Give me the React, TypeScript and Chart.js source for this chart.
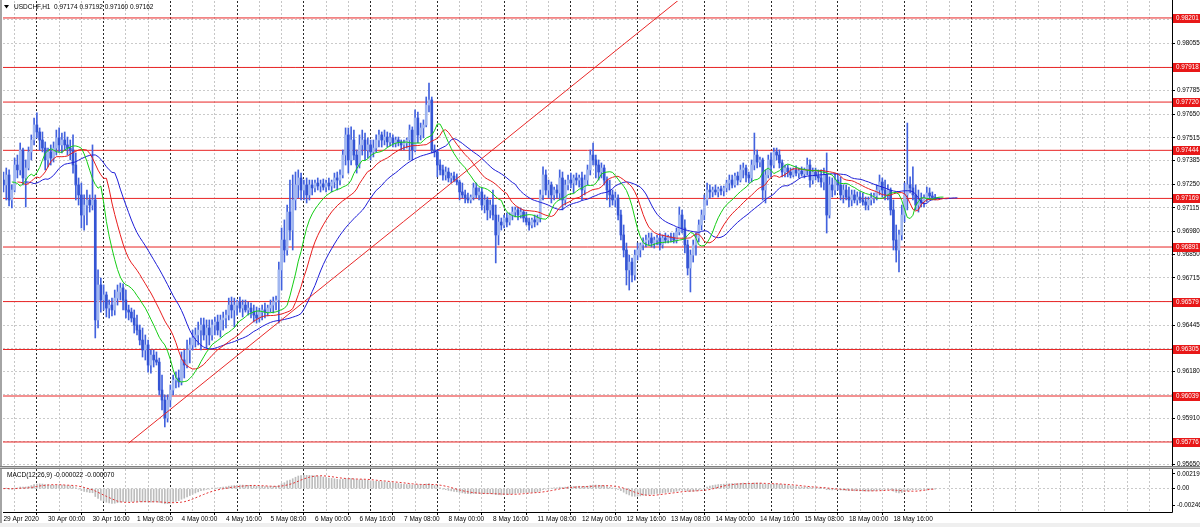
import React, { useEffect, useRef } from 'react';
import { Chart, registerables } from 'chart.js';

Chart.register(...registerables);

// USDCHF H1 bars, index 0 = 29 Apr 2020 08:00. Prices in points (1 point = 0.00001).
const OPEN = [
  97274,97246,97303,97160,97217,97360,97332,97446,97286,97343,97435,97503,
  97589,97549,97503,97457,97389,97435,97400,97457,97515,97475,97503,97475,
  97457,97446,97360,97246,97189,97074,97131,97160,97131,97160,96474,96674,
  96588,96617,96542,96559,96531,96599,96634,96657,96588,96531,96519,96485,
  96445,96416,96359,96302,96331,96216,96273,96245,96233,96073,96016,95913,
  96016,96073,96130,96142,96119,96245,96216,96302,96331,96371,96388,96416,
  96445,96388,96428,96388,96445,96462,96416,96474,96485,96502,96559,96531,
  96559,96577,96542,96559,96531,96542,96519,96502,96485,96519,96531,96519,
  96542,96559,96577,96588,96760,96931,96874,97091,96988,97160,97246,97286,
  97217,97246,97189,97246,97229,97257,97240,97252,97234,97257,97240,97263,
  97286,97274,97303,97417,97532,97389,97503,97417,97360,97475,97503,97446,
  97475,97435,97457,97503,97532,97503,97520,97492,97515,97486,97503,97492,
  97475,97486,97503,97560,97446,97629,97532,97572,97589,97703,97732,97446,
  97435,97360,97332,97303,97320,97286,97297,97274,97263,97206,97189,97171,
  97160,97177,97229,97189,97206,97131,97160,97103,97131,97074,96960,97034,
  97017,97057,97034,97074,97091,97103,97074,97091,97057,97034,97017,97046,
  97034,97057,97189,97303,97217,97246,97189,97217,97200,97286,97160,97246,
  97274,97257,97286,97274,97286,97217,97274,97332,97417,97389,97360,97320,
  97343,97274,97217,97189,97160,97171,97074,96960,96874,96760,96805,96731,
  96845,96874,96903,96920,96931,96943,96914,96931,96943,96903,96943,96931,
  96948,96943,96931,96977,97074,97000,96903,96771,96845,96903,96943,97017,
  97074,97160,97217,97206,97217,97206,97223,97212,97229,97257,97274,97246,
  97297,97274,97332,97343,97303,97286,97360,97417,97377,97389,97217,97303,
  97389,97360,97435,97417,97372,97320,97343,97320,97303,97332,97314,97326,
  97309,97332,97360,97274,97320,97297,97286,97263,97303,97074,97246,97217,
  97274,97246,97189,97217,97177,97160,97189,97160,97177,97160,97149,97131,
  97160,97171,97183,97217,97263,97217,97189,97217,97103,96931,96874,96960,
  97074,97189,97246,97229,97189,97131,97160,97143,97171,97200,97183,97174,
];
const HIGH = [
  97320,97343,97332,97246,97400,97417,97486,97457,97389,97463,97532,97629,
  97658,97572,97549,97492,97457,97475,97492,97560,97572,97543,97549,97520,
  97503,97532,97429,97286,97257,97189,97217,97189,97475,97189,96760,96714,
  96674,96634,96588,96599,96645,96674,96685,96680,96645,96559,96542,96531,
  96502,96445,96428,96388,96359,96302,96302,96291,96256,96159,96045,96045,
  96102,96159,96176,96188,96291,96302,96359,96371,96416,96428,96462,96485,
  96485,96474,96474,96474,96491,96502,96502,96519,96531,96599,96605,96599,
  96588,96605,96588,96588,96577,96571,96559,96548,96542,96559,96571,96559,
  96588,96605,96611,96805,97000,97046,97131,97274,97303,97320,97332,97314,
  97274,97286,97274,97274,97274,97286,97274,97280,97274,97286,97274,97314,
  97320,97332,97446,97572,97572,97578,97560,97446,97532,97560,97543,97515,
  97503,97503,97532,97560,97549,97560,97549,97543,97532,97520,97520,97503,
  97503,97515,97589,97578,97675,97663,97600,97618,97749,97829,97749,97475,
  97446,97389,97360,97349,97343,97314,97320,97309,97274,97257,97217,97200,
  97189,97257,97257,97229,97229,97189,97177,97160,97217,97131,97074,97057,
  97074,97086,97086,97120,97120,97120,97114,97103,97091,97057,97057,97074,
  97074,97217,97349,97332,97274,97263,97234,97246,97332,97320,97274,97303,
  97314,97303,97314,97303,97320,97303,97360,97446,97486,97417,97389,97372,
  97360,97292,97274,97217,97206,97189,97103,97017,96914,96845,96828,96874,
  96914,96914,96943,96960,96971,96971,96948,96960,96971,96960,96971,96960,
  96971,96971,97000,97120,97103,97046,96931,96874,96931,96971,97046,97103,
  97189,97257,97246,97234,97246,97234,97240,97240,97274,97303,97303,97314,
  97320,97360,97372,97360,97320,97389,97543,97446,97406,97400,97332,97417,
  97429,97457,97457,97446,97389,97360,97360,97343,97343,97355,97343,97349,
  97343,97400,97389,97343,97343,97332,97332,97343,97429,97292,97286,97314,
  97303,97292,97246,97246,97234,97217,97217,97206,97206,97200,97177,97177,
  97200,97200,97246,97303,97286,97274,97246,97229,97160,97017,96988,97131,
  97257,97600,97292,97349,97246,97217,97200,97189,97234,97229,97206,97192,
];
const LOW = [
  97206,97160,97126,97114,97206,97286,97303,97246,97120,97332,97389,97475,
  97515,97446,97435,97332,97349,97360,97377,97417,97435,97429,97446,97417,
  97389,97314,97160,97131,97000,96988,97017,97091,97103,96371,96428,96519,
  96531,96491,96485,96497,96502,96559,96588,96531,96485,96474,96462,96399,
  96388,96331,96262,96245,96176,96170,96205,96216,96045,95959,95862,95890,
  95976,96045,96085,96090,96102,96142,96199,96228,96302,96319,96331,96302,
  96359,96313,96331,96359,96388,96388,96376,96416,96428,96474,96485,96434,
  96502,96519,96491,96519,96502,96485,96462,96456,96462,96474,96485,96497,
  96519,96514,96531,96456,96645,96805,96845,96931,96874,97103,97171,97160,
  97160,97143,97160,97189,97206,97217,97206,97217,97206,97217,97206,97229,
  97217,97246,97286,97360,97314,97360,97389,97314,97343,97417,97389,97400,
  97389,97406,97435,97463,97463,97475,97463,97469,97463,97463,97469,97446,
  97446,97457,97389,97389,97435,97486,97503,97515,97578,97663,97429,97406,
  97292,97303,97274,97274,97263,97257,97263,97246,97160,97171,97143,97143,
  97143,97160,97171,97160,97103,97086,97046,97057,97046,96800,96903,96988,
  97000,97006,97017,97046,97063,97046,97057,97034,97017,96988,97000,97006,
  97017,97034,97160,97189,97171,97143,97160,97171,97160,97103,97131,97217,
  97229,97200,97246,97234,97160,97189,97246,97303,97360,97286,97274,97286,
  97246,97160,97120,97131,97120,97046,96931,96834,96674,96645,96691,96702,
  96817,96834,96874,96891,96903,96891,96885,96903,96874,96885,96914,96914,
  96920,96914,96914,96960,96971,96857,96731,96634,96805,96845,96920,96988,
  97046,97131,97171,97177,97189,97177,97189,97183,97206,97217,97229,97234,
  97246,97263,97286,97263,97257,97263,97332,97343,97349,97160,97143,97286,
  97292,97343,97389,97343,97292,97292,97292,97286,97292,97297,97286,97297,
  97286,97303,97234,97252,97274,97263,97234,97217,96971,97057,97177,97189,
  97217,97160,97143,97160,97120,97126,97143,97131,97143,97131,97103,97103,
  97131,97143,97160,97189,97177,97160,97160,97074,96874,96805,96748,96931,
  97034,97103,97200,97160,97103,97091,97120,97120,97149,97160,97160,97160,
];
const CLOSE = [
  97246,97303,97160,97217,97360,97332,97446,97286,97343,97435,97503,97589,
  97549,97503,97457,97389,97435,97400,97457,97515,97475,97503,97475,97457,
  97446,97360,97246,97189,97074,97131,97160,97131,97160,96474,96674,96588,
  96617,96542,96559,96531,96599,96634,96657,96588,96531,96519,96485,96445,
  96416,96359,96302,96331,96216,96273,96245,96233,96073,96016,95913,96016,
  96073,96130,96142,96119,96245,96216,96302,96331,96371,96388,96416,96445,
  96388,96428,96388,96445,96462,96416,96474,96485,96502,96559,96531,96559,
  96577,96542,96559,96531,96542,96519,96502,96485,96519,96531,96519,96542,
  96559,96577,96588,96760,96931,96874,97091,96988,97160,97246,97286,97217,
  97246,97189,97246,97229,97257,97240,97252,97234,97257,97240,97263,97286,
  97274,97303,97417,97532,97389,97503,97417,97360,97475,97503,97446,97475,
  97435,97457,97503,97532,97503,97520,97492,97515,97486,97503,97492,97475,
  97486,97503,97560,97446,97629,97532,97572,97589,97703,97732,97446,97435,
  97360,97332,97303,97320,97286,97297,97274,97263,97206,97189,97171,97160,
  97177,97229,97189,97206,97131,97160,97103,97131,97074,96960,97034,97017,
  97057,97034,97074,97091,97103,97074,97091,97057,97034,97017,97046,97034,
  97057,97189,97303,97217,97246,97189,97217,97200,97286,97160,97246,97274,
  97257,97286,97274,97286,97217,97274,97332,97417,97389,97360,97320,97343,
  97274,97217,97189,97160,97171,97074,96960,96874,96760,96805,96731,96845,
  96874,96903,96920,96931,96943,96914,96931,96943,96903,96943,96931,96948,
  96943,96931,96977,97074,97000,96903,96771,96845,96903,96943,97017,97074,
  97160,97217,97206,97217,97206,97223,97212,97229,97257,97274,97246,97297,
  97274,97332,97343,97303,97286,97360,97417,97377,97389,97217,97303,97389,
  97360,97435,97417,97372,97320,97343,97320,97303,97332,97314,97326,97309,
  97332,97360,97274,97320,97297,97286,97263,97303,97074,97246,97217,97274,
  97246,97189,97217,97177,97160,97189,97160,97177,97160,97149,97131,97160,
  97171,97183,97217,97263,97217,97189,97217,97103,96931,96874,96960,97074,
  97189,97246,97229,97189,97131,97160,97143,97171,97200,97183,97174,97162,
];

// Horizontal support/resistance levels (red lines with red axis labels)
const LEVELS = [0.98201, 0.97918, 0.9772, 0.97444, 0.97169, 0.96891, 0.96579, 0.96305, 0.96039, 0.95776];
// Price axis ticks
const PRICE_TICKS = [0.9565, 0.9578, 0.9591, 0.96045, 0.9618, 0.9631, 0.96445, 0.9658, 0.96715, 0.9685,
  0.9698, 0.97115, 0.9725, 0.97385, 0.97515, 0.9765, 0.97785, 0.9792, 0.98055, 0.9819];
// MACD sub-window ticks
const MACD_TICKS = [-0.00246, 0, 0.002199];
const MACD_TICK_LABELS = ['-0.00246', '0.00', '0.002199'];
// Time labels, one every 16 bars starting at bar 0
const X_LABELS = ['29 Apr 2020', '30 Apr 00:00', '30 Apr 16:00', '1 May 08:00', '4 May 00:00', '4 May 16:00',
  '5 May 08:00', '6 May 00:00', '6 May 16:00', '7 May 08:00', '8 May 00:00', '8 May 16:00', '11 May 08:00',
  '12 May 00:00', '12 May 16:00', '13 May 08:00', '14 May 00:00', '14 May 16:00', '15 May 08:00',
  '18 May 00:00', '18 May 16:00'];
// Trend line anchors (bar index, price)
const TREND_BARS = [45, 262];
const TREND_PRICES = [0.9577, 0.9855];

const HEADER = 'USDCHF,H1  0.97174 0.97192 0.97160 0.97162';
const MACD_TITLE = 'MACD(12,26,9) -0.000022 -0.000070';

// view ranges
const X_MIN = -0.18, X_MAX = 420.17;
const P_MIN = 0.95633, P_MAX = 0.98298;
const M_MIN = -0.003512, M_MAX = 0.003251;
const LABEL_STEP = 16, GRID_STEP = 8, SEP_FIRST = 16, SEP_STEP = 24, SEP_LAST = 352;

const FONT = 'Liberation Sans';

function smma(src: number[], period: number) {
  let prev = src[0];
  return src.map((v, i) => (prev = i === 0 ? v : (prev * (period - 1) + v) / period));
}
function ema(src: number[], period: number) {
  const k = 2 / (period + 1);
  let e = src[0];
  return src.map((v, i) => (e = i === 0 ? v : e + k * (v - e)));
}

export default function App() {
  const ref = useRef<HTMLCanvasElement>(null);

  useEffect(() => {
    const pt = (v: number) => v / 100000;
    const median = HIGH.map((h, i) => pt((h + LOW[i]) / 2));
    const jaw = smma(median, 13).map((v, i) => ({ x: i + 8, y: v }));
    const teeth = smma(median, 8).map((v, i) => ({ x: i + 5, y: v }));
    const lips = smma(median, 5).map((v, i) => ({ x: i + 3, y: v }));
    const closes = CLOSE.map(pt);
    const e12 = ema(closes, 12);
    const e26 = ema(closes, 26);
    const macd = e12.map((v, i) => v - e26[i]);
    const signal = macd.map((_, i) => {
      const s = Math.max(0, i - 8);
      let sum = 0;
      for (let j = s; j <= i; j++) sum += macd[j];
      return sum / (i - s + 1);
    });

    const gridTicks: number[] = [];
    for (let v = 0; v <= X_MAX; v += GRID_STEP) gridTicks.push(v);

    const levelSets = LEVELS.map((lv) => ({
      type: 'line',
      data: [{ x: X_MIN, y: lv }, { x: X_MAX, y: lv }],
      borderColor: 'rgb(232,36,36)',
      borderWidth: 1,
      pointRadius: 0,
      yAxisID: 'y',
      order: 20,
    }));

    const overlay = {
      id: 'mt4Overlay',
      afterDraw(chart: any) {
        const { ctx, chartArea: a, scales } = chart;
        const ys = scales.y;
        const ms = scales.m;
        ctx.save();
        // window frame bits
        ctx.fillStyle = '#efefef';
        ctx.fillRect(0, 523, 1200, 4);
        ctx.fillStyle = '#a4a4a4';
        ctx.fillRect(0, 0, 2, 523);
        ctx.strokeStyle = '#000';
        ctx.lineWidth = 1;
        ctx.beginPath();
        ctx.moveTo(a.right + 0.5, 0);
        ctx.lineTo(a.right + 0.5, a.bottom + 0.5);
        ctx.lineTo(a.left, a.bottom + 0.5);
        ctx.stroke();
        // pane separator
        const sy = Math.round(ys.bottom);
        ctx.fillStyle = '#c4c4c4';
        ctx.fillRect(0, sy - 1, 1200, 3);
        ctx.fillStyle = '#808080';
        ctx.fillRect(0, sy - 1, 1200, 1);
        ctx.fillRect(0, sy + 1, 1200, 1);
        // red level labels
        ctx.font = `6.3px ${FONT}`;
        ctx.textBaseline = 'middle';
        ctx.textAlign = 'left';
        for (const lv of LEVELS) {
          const py = Math.round(ys.getPixelForValue(lv));
          ctx.fillStyle = 'rgb(232,24,24)';
          ctx.fillRect(a.right + 1, py - 4, 27, 9);
          ctx.fillStyle = '#fff';
          ctx.fillText(lv.toFixed(5), a.right + 4, py + 0.5);
        }
        // header
        ctx.fillStyle = '#000';
        ctx.beginPath();
        ctx.moveTo(4, 5);
        ctx.lineTo(9, 5);
        ctx.lineTo(6.5, 8.5);
        ctx.closePath();
        ctx.fill();
        ctx.font = `6.5px ${FONT}`;
        ctx.fillText(HEADER, 14, 7.5);
        ctx.fillText(MACD_TITLE, 7, ms.top + 8);
        ctx.restore();
      },
    };

    const config: any = {
      type: 'bar',
      data: {
        datasets: [
          {
            type: 'line',
            data: TREND_BARS.map((b, i) => ({ x: b, y: TREND_PRICES[i] })),
            borderColor: 'rgb(232,40,40)',
            borderWidth: 1,
            pointRadius: 0,
            yAxisID: 'y',
            order: 1,
          },
          { type: 'line', data: lips, borderColor: 'rgb(20,205,20)', borderWidth: 1, pointRadius: 0, yAxisID: 'y', order: 2 },
          { type: 'line', data: teeth, borderColor: 'rgb(232,30,30)', borderWidth: 1, pointRadius: 0, yAxisID: 'y', order: 3 },
          { type: 'line', data: jaw, borderColor: 'rgb(30,30,215)', borderWidth: 1, pointRadius: 0, yAxisID: 'y', order: 4 },
          {
            type: 'bar',
            data: OPEN.map((o, i) => ({ x: i, y: [pt(o), pt(CLOSE[i])] })),
            backgroundColor: OPEN.map((o, i) => (CLOSE[i] >= o ? 'rgb(160,182,240)' : 'rgb(52,84,212)')),
            borderWidth: 0,
            barThickness: 2,
            minBarLength: 1,
            grouped: false,
            yAxisID: 'y',
            order: 5,
          },
          {
            type: 'bar',
            data: HIGH.map((h, i) => ({ x: i, y: [pt(LOW[i]), pt(h)] })),
            backgroundColor: 'rgb(66,98,222)',
            borderWidth: 0,
            barThickness: 1,
            grouped: false,
            yAxisID: 'y',
            order: 6,
          },
          {
            type: 'line',
            data: signal.map((v, i) => ({ x: i, y: v })),
            borderColor: 'rgb(226,50,50)',
            borderWidth: 1,
            borderDash: [2, 2],
            pointRadius: 0,
            yAxisID: 'm',
            order: 7,
          },
          {
            type: 'bar',
            data: macd.map((v, i) => ({ x: i, y: v })),
            backgroundColor: '#bdbdbd',
            borderWidth: 0,
            barThickness: 1,
            grouped: false,
            yAxisID: 'm',
            order: 8,
          },
          ...levelSets,
        ],
      },
      options: {
        responsive: false,
        maintainAspectRatio: false,
        animation: false,
        devicePixelRatio: 1,
        events: [],
        layout: { autoPadding: false, padding: { left: 3, top: 1, right: 0, bottom: 0 } },
        plugins: { legend: { display: false }, tooltip: { enabled: false } },
        scales: {
          x: {
            type: 'linear',
            position: 'bottom',
            min: X_MIN,
            max: X_MAX,
            offset: false,
            afterFit: (s: any) => {
              s.height = 15;
              s.paddingLeft = 0;
              s.paddingRight = 0;
            },
            afterBuildTicks: (s: any) => {
              s.ticks = gridTicks.map((v) => ({ value: v }));
            },
            grid: {
              lineWidth: 1,
              color: (c: any) => {
                const v = c.tick ? c.tick.value : -1;
                if (v <= 0) return 'rgba(0,0,0,0)';
                if (v >= SEP_FIRST && v <= SEP_LAST && (v - SEP_FIRST) % SEP_STEP === 0) return '#2a2a2a';
                return '#c6c6c6';
              },
              tickLength: 3,
              tickColor: (c: any) => {
                const v = c.tick ? c.tick.value : -1;
                return v % LABEL_STEP === 0 && v / LABEL_STEP < X_LABELS.length ? '#000' : 'rgba(0,0,0,0)';
              },
              tickBorderDash: [],
            },
            border: { display: false, dash: [2, 2] },
            ticks: {
              autoSkip: false,
              maxRotation: 0,
              minRotation: 0,
              align: 'start',
              padding: 0,
              color: '#000',
              font: { family: FONT, size: 6.5 },
              callback: (v: any) => {
                const n = Number(v);
                return n % LABEL_STEP === 0 && n / LABEL_STEP < X_LABELS.length ? X_LABELS[n / LABEL_STEP] : '';
              },
            },
          },
          y: {
            type: 'linear',
            position: 'right',
            stack: 'panes',
            stackWeight: 466,
            weight: 0,
            min: P_MIN,
            max: P_MAX,
            afterFit: (s: any) => {
              s.width = 28;
              s.paddingTop = 0;
              s.paddingBottom = 0;
            },
            afterBuildTicks: (s: any) => {
              s.ticks = PRICE_TICKS.map((v) => ({ value: v }));
            },
            grid: { color: '#cacaca', lineWidth: 1, tickLength: 3, tickColor: '#000', tickBorderDash: [] },
            border: { display: false, dash: [2, 2] },
            ticks: {
              autoSkip: false,
              padding: 2,
              color: '#000',
              font: { family: FONT, size: 6.3 },
              callback: (v: any) => Number(v).toFixed(5),
            },
          },
          m: {
            type: 'linear',
            position: 'right',
            stack: 'panes',
            stackWeight: 45,
            weight: 1,
            min: M_MIN,
            max: M_MAX,
            afterFit: (s: any) => {
              s.width = 28;
              s.paddingTop = 0;
              s.paddingBottom = 0;
            },
            afterBuildTicks: (s: any) => {
              s.ticks = MACD_TICKS.map((v) => ({ value: v }));
            },
            grid: {
              color: (c: any) => (c.tick && c.tick.value === 0 ? '#cacaca' : 'rgba(0,0,0,0)'),
              lineWidth: 1,
              tickLength: 3,
              tickColor: '#000',
              tickBorderDash: [],
            },
            border: { display: false, dash: [2, 2] },
            ticks: {
              autoSkip: false,
              padding: 2,
              color: '#000',
              font: { family: FONT, size: 6.3 },
              callback: (v: any) => {
                const k = MACD_TICKS.indexOf(Number(v));
                return k >= 0 ? MACD_TICK_LABELS[k] : '';
              },
            },
          },
        },
      },
      plugins: [overlay],
    };

    const chart = new Chart(ref.current as HTMLCanvasElement, config);
    return () => chart.destroy();
  }, []);

  return (
    <div style={{ position: 'fixed', left: 0, top: 0, width: 1200, height: 527, background: '#fff', overflow: 'hidden' }}>
      <canvas ref={ref} width={1200} height={527} style={{ display: 'block', width: 1200, height: 527 }} />
    </div>
  );
}
